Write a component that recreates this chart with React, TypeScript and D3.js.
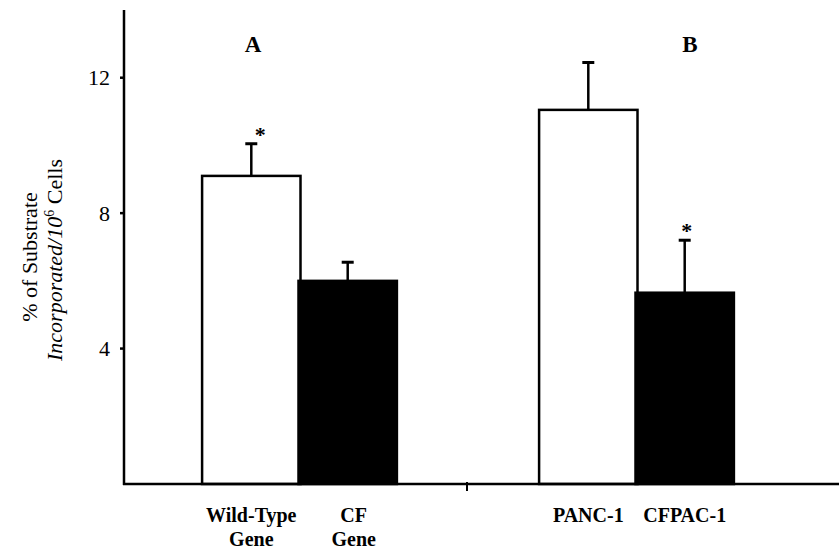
import React from "react";
import * as d3 from "d3";

// Panel groups and the two bars in each
const groups = ["A", "B"];
const categories = ["Wild-Type Gene", "CF Gene", "PANC-1", "CFPAC-1"];
const categoryGroup = ["A", "A", "B", "B"];
const categorySlot = [0, 1, 0, 1];
const labelLines = [["Wild-Type", "Gene"], ["CF", "Gene"], ["PANC-1"], ["CFPAC-1"]];
const values = [9.1, 6.0, 11.05, 5.65];
const errors = [0.95, 0.55, 1.4, 1.55];
const significant = [true, false, false, true];
const yTicks = [4, 8, 12];

const W = 839;
const H = 553;
const axisX = 124;
const baseY = 484;
const topY = 10;

export default function App() {
  const y = d3.scaleLinear().domain([0, 14]).range([baseY, topY]);
  const x = d3.scaleBand<string>().domain(groups).range([130, 804]).padding(0);
  const barW = x.bandwidth() * 0.292;
  const barLeft = (i: number) => {
    const c = (x(categoryGroup[i]) as number) + x.bandwidth() / 2;
    return categorySlot[i] === 0 ? c - barW + 2 : c;
  };
  const font = "'Liberation Serif', 'Times New Roman', serif";
  const midTick = x("B") as number;

  return (
    <svg
      width={W}
      height={H}
      style={{ position: "absolute", left: 0, top: 0, background: "#fff" }}
      fontFamily={font}
    >
      {/* bars */}
      {values.map((v, i) => {
        const white = categorySlot[i] === 0;
        return (
          <rect
            key={categories[i]}
            x={barLeft(i)}
            y={y(v)}
            width={barW}
            height={y(0) - y(v)}
            fill={white ? "#fff" : "#000"}
            stroke="#000"
            strokeWidth={2.5}
          />
        );
      })}
      {/* upward error bars */}
      {values.map((v, i) => {
        const cx = barLeft(i) + barW / 2;
        const top = y(v + errors[i]);
        return (
          <g key={"e" + i} stroke="#000" strokeWidth={2.5}>
            <line x1={cx} x2={cx} y1={y(v)} y2={top} />
            <line x1={cx - 6} x2={cx + 6} y1={top} y2={top} strokeWidth={3} />
          </g>
        );
      })}
      {/* significance marks */}
      {values.map((v, i) => {
        if (!significant[i]) return null;
        const cx = barLeft(i) + barW / 2;
        const top = y(v + errors[i]);
        const dx = categorySlot[i] === 0 ? 9 : 2;
        return (
          <text
            key={"s" + i}
            x={cx + dx}
            y={top - 2}
            fontSize={22}
            fontWeight="bold"
            textAnchor="middle"
          >
            *
          </text>
        );
      })}
      {/* axes */}
      <line x1={axisX} x2={axisX} y1={topY} y2={baseY + 1} stroke="#000" strokeWidth={2.5} />
      <line x1={axisX - 1} x2={W} y1={baseY} y2={baseY} stroke="#000" strokeWidth={2.5} />
      <line x1={midTick} x2={midTick} y1={baseY - 2} y2={baseY + 7} stroke="#000" strokeWidth={2} />
      {yTicks.map((t) => (
        <g key={t}>
          <line x1={axisX - 4} x2={axisX} y1={y(t)} y2={y(t)} stroke="#000" strokeWidth={2.5} />
          <text x={110} y={y(t)} dy="0.35em" fontSize={22} textAnchor="end">
            {t}
          </text>
        </g>
      ))}
      {/* panel letters */}
      {groups.map((g, gi) => (
        <text
          key={g}
          x={gi === 0 ? 253 : 690}
          y={52}
          fontSize={23}
          fontWeight="bold"
          textAnchor="middle"
        >
          {g}
        </text>
      ))}
      {/* category labels */}
      {labelLines.map((lines, i) => {
        const cx = barLeft(i) + barW / 2 + (i === 1 ? 6 : 0);
        return (
          <text key={"l" + i} x={cx} y={522} fontSize={20} fontWeight="bold" textAnchor="middle">
            {lines.map((ln, j) => (
              <tspan key={j} x={cx} dy={j === 0 ? 0 : 24}>
                {ln}
              </tspan>
            ))}
          </text>
        );
      })}
      {/* y axis title */}
      <g transform="translate(37,257) rotate(-90)">
        <text fontSize={22} textAnchor="middle">% of Substrate</text>
      </g>
      <g transform="translate(62,260) rotate(-90)">
        <text fontSize={22} textAnchor="middle">
          <tspan fontStyle="italic">Incorporated/10</tspan>
          <tspan fontSize={14} dy={-8}>6</tspan>
          <tspan dy={8}> Cells</tspan>
        </text>
      </g>
    </svg>
  );
}
